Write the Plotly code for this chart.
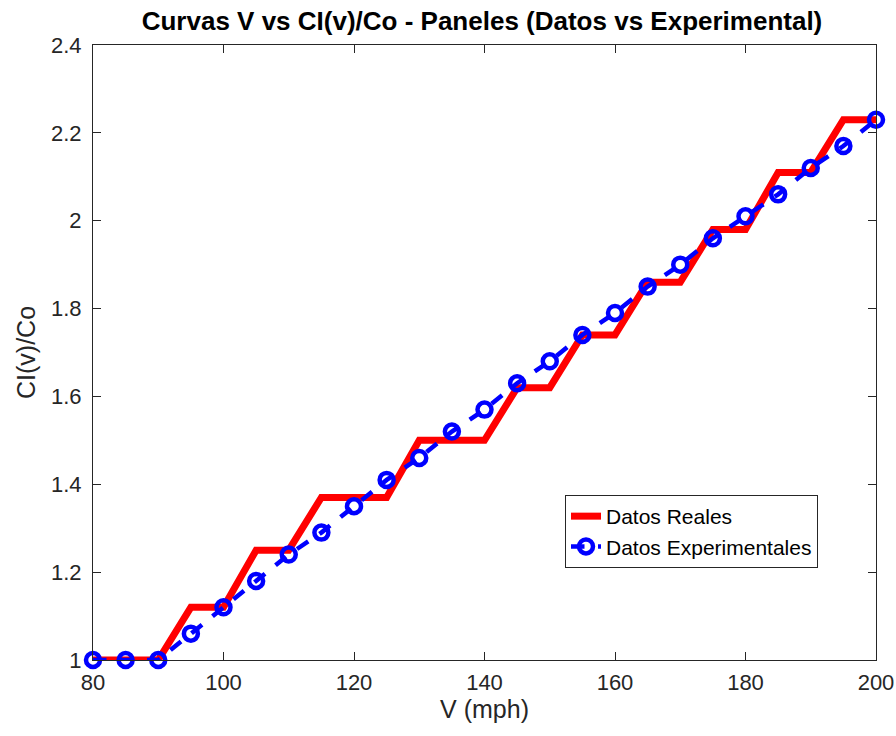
import plotly.graph_objects as go

v_mph = [80, 85, 90, 95, 100, 105, 110, 115, 120, 125, 130, 135, 140,
         145, 150, 155, 160, 165, 170, 175, 180, 185, 190, 195, 200]
datos_reales = [1.00, 1.00, 1.00, 1.12, 1.12, 1.25, 1.25, 1.37, 1.37, 1.37,
                1.50, 1.50, 1.50, 1.62, 1.62, 1.74, 1.74, 1.86, 1.86, 1.98,
                1.98, 2.11, 2.11, 2.23, 2.23]
datos_experimentales = [1.00, 1.00, 1.00, 1.06, 1.12, 1.18, 1.24, 1.29, 1.35,
                        1.41, 1.46, 1.52, 1.57, 1.63, 1.68, 1.74, 1.79, 1.85,
                        1.90, 1.96, 2.01, 2.06, 2.12, 2.17, 2.23]
x_ticks = [80, 100, 120, 140, 160, 180, 200]
y_ticks = [1, 1.2, 1.4, 1.6, 1.8, 2, 2.2, 2.4]
y_tick_text = ["1", "1.2", "1.4", "1.6", "1.8", "2", "2.2", "2.4"]

FONT = "Liberation Sans, Arial, sans-serif"
AX = "#262626"

fig = go.Figure()
fig.add_trace(go.Scatter(
    x=v_mph, y=datos_reales, mode="lines", name="Datos Reales",
    line=dict(color="#ff0000", width=7), cliponaxis=False))
fig.add_trace(go.Scatter(
    x=v_mph, y=datos_experimentales, mode="lines+markers",
    name="Datos Experimentales",
    line=dict(color="#0000ff", width=4.5, dash="dash"),
    marker=dict(symbol="circle-open", size=14, color="#0000ff",
                line=dict(width=4.5, color="#0000ff")),
    cliponaxis=False))

axis_common = dict(
    showline=True, linecolor=AX, linewidth=1, mirror="ticks",
    ticks="inside", ticklen=8, tickcolor=AX, showgrid=False, zeroline=False,
    automargin=False,
    tickfont=dict(family=FONT, size=22, color=AX),
)
fig.update_layout(
    width=896, height=736,
    margin=dict(l=93, r=20, t=45, b=76),
    paper_bgcolor="white", plot_bgcolor="white",
    title=dict(text="<b>Curvas V vs CI(v)/Co - Paneles (Datos vs Experimental)</b>",
               x=482 / 896, xanchor="center", y=1 - 21 / 736, yanchor="middle",
               font=dict(family=FONT, size=26, color="black")),
    xaxis=dict(range=[80, 200], tickvals=x_ticks, ticklabelstandoff=3,
               title=dict(text="V (mph)", font=dict(family=FONT, size=25, color=AX),
                          standoff=5),
               **axis_common),
    yaxis=dict(range=[1, 2.4], tickvals=y_ticks, ticktext=y_tick_text,
               ticklabelstandoff=6,
               title=dict(text="CI(v)/Co", font=dict(family=FONT, size=25, color=AX),
                          standoff=8),
               **axis_common),
    legend=dict(x=(565 - 93) / 783, y=(660 - 495) / 615, xanchor="left", yanchor="top",
                bgcolor="white", bordercolor=AX, borderwidth=1,
                font=dict(family=FONT, size=21, color="black"),
                tracegroupgap=0),
    showlegend=True,
)

fig.write_html("out.html")
